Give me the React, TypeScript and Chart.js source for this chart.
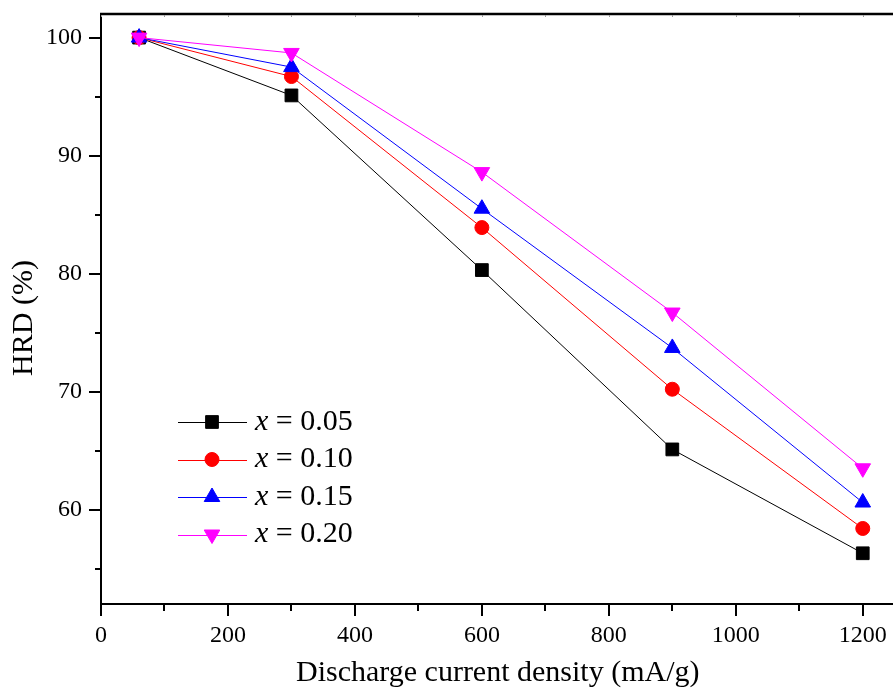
import { useEffect, useRef } from "react";
import { Chart, registerables } from "chart.js";
import { drawPoint } from "chart.js/helpers";

Chart.register(...registerables);

const currentDensity = [60, 300, 600, 900, 1200];
const hrdX005 = [100, 95.1, 80.3, 65.1, 56.3];
const hrdX010 = [100, 96.7, 83.9, 70.2, 58.4];
const hrdX015 = [100, 97.5, 85.5, 73.7, 60.6];
const hrdX020 = [100, 98.7, 88.6, 76.7, 63.5];
const seriesValues = [hrdX005, hrdX010, hrdX015, hrdX020];
const seriesLabels = ["0.05", "0.10", "0.15", "0.20"];
const xTickValues = [0, 200, 400, 600, 800, 1000, 1200];
const xMinorTickValues = [100, 300, 500, 700, 900, 1100];
const yTickValues = [60, 70, 80, 90, 100];
const yMinorTickValues = [55, 65, 75, 85, 95];
const xTitle = "Discharge current density (mA/g)";
const yTitle = "HRD (%)";

const FONT = "'Liberation Serif', 'Times New Roman', serif";

const seriesStyles = [
  { color: "#000000", pointStyle: "rect", radius: 9, rotation: 0 },
  { color: "#ff0000", pointStyle: "circle", radius: 7, rotation: 0 },
  { color: "#0000ff", pointStyle: "triangle", radius: 9, rotation: 0 },
  { color: "#ff00ff", pointStyle: "triangle", radius: 9, rotation: 180 },
];

const framePlugin = {
  id: "frame",
  afterDraw(chart: any) {
    const { ctx, chartArea } = chart;
    const xs = chart.scales.x;
    const ys = chart.scales.y;
    const { left, right, top, bottom } = chartArea;
    ctx.save();
    ctx.strokeStyle = "#000";
    ctx.lineWidth = 2;
    ctx.beginPath();
    for (const v of xMinorTickValues) {
      const px = Math.round(xs.getPixelForValue(v));
      ctx.moveTo(px, bottom);
      ctx.lineTo(px, bottom + 7);
    }
    for (const v of yMinorTickValues) {
      const py = Math.round(ys.getPixelForValue(v));
      ctx.moveTo(left, py);
      ctx.lineTo(left - 6, py);
    }
    ctx.stroke();
    // top and right frame
    ctx.lineWidth = 2.5;
    ctx.beginPath();
    ctx.moveTo(left - 1, top);
    ctx.lineTo(right, top);
    ctx.lineTo(right, bottom);
    ctx.stroke();
    // faint inward ticks on top
    ctx.strokeStyle = "#999";
    ctx.lineWidth = 1;
    ctx.beginPath();
    for (const v of [...xTickValues, ...xMinorTickValues]) {
      const px = Math.round(xs.getPixelForValue(v)) + 0.5;
      ctx.moveTo(px, top + 1);
      ctx.lineTo(px, top + 3);
    }
    ctx.stroke();

    // y axis title
    ctx.save();
    ctx.translate(24.5, (top + bottom) / 2 + 9);
    ctx.rotate(-Math.PI / 2);
    ctx.fillStyle = "#000";
    ctx.font = `30px ${FONT}`;
    ctx.textAlign = "center";
    ctx.textBaseline = "middle";
    ctx.fillText(yTitle, 0, 0);
    ctx.restore();

    // legend
    const lineX1 = 178;
    const lineX2 = 247;
    const markerX = 212;
    const textX = 255;
    const rowY0 = 422;
    const rowStep = 37.5;
    chart.data.datasets.forEach((ds: any, i: number) => {
      const st = seriesStyles[i];
      const y = rowY0 + i * rowStep;
      ctx.strokeStyle = st.color;
      ctx.fillStyle = st.color;
      ctx.lineWidth = 1;
      ctx.beginPath();
      ctx.moveTo(lineX1, Math.round(y) + 0.5);
      ctx.lineTo(lineX2, Math.round(y) + 0.5);
      ctx.stroke();
      drawPoint(ctx, { pointStyle: st.pointStyle, rotation: st.rotation, radius: st.radius, borderWidth: 1 }, markerX, y);
      ctx.fillStyle = "#000";
      ctx.textBaseline = "middle";
      ctx.textAlign = "left";
      ctx.font = `italic 30px ${FONT}`;
      ctx.fillText("x", textX, y);
      const w = ctx.measureText("x").width;
      ctx.font = `30px ${FONT}`;
      ctx.fillText(" = " + seriesLabels[i], textX + w, y);
    });
    ctx.restore();
  },
};

export default function App() {
  const canvasRef = useRef<HTMLCanvasElement | null>(null);

  useEffect(() => {
    const canvas = canvasRef.current;
    if (!canvas) return;
    const chart = new Chart(canvas, {
      type: "line",
      data: {
        datasets: seriesValues.map((vals, i) => ({
          label: "x = " + seriesLabels[i],
          data: currentDensity.map((x, j) => ({ x, y: vals[j] })),
          borderColor: seriesStyles[i].color,
          backgroundColor: seriesStyles[i].color,
          borderWidth: 1,
          pointStyle: seriesStyles[i].pointStyle as any,
          pointRadius: seriesStyles[i].radius,
          pointRotation: seriesStyles[i].rotation,
          pointBorderWidth: 1,
          pointBorderColor: seriesStyles[i].color,
          pointBackgroundColor: seriesStyles[i].color,
          tension: 0,
          order: 4 - i,
        })),
      },
      options: {
        responsive: false,
        animation: false,
        devicePixelRatio: 1,
        layout: { autoPadding: false, padding: { left: 0, top: 14, right: 5.5, bottom: 0 } },
        plugins: {
          legend: { display: false },
          tooltip: { enabled: false },
        },
        scales: {
          x: {
            type: "linear",
            min: 0,
            max: 1250,
            afterFit(scale: any) {
              scale.height = 84;
              scale.paddingLeft = 0;
              scale.paddingRight = 0;
            },
            afterBuildTicks(scale: any) {
              scale.ticks = xTickValues.map((v) => ({ value: v }));
            },
            border: { display: true, color: "#000", width: 2 },
            grid: {
              display: true,
              drawOnChartArea: false,
              drawTicks: true,
              tickLength: 12,
              color: "#000",
              lineWidth: 2,
            },
            ticks: {
              color: "#000",
              font: { family: FONT, size: 24 },
              padding: 5,
              maxRotation: 0,
              autoSkip: false,
              callback: (v: any) => String(v),
            },
            title: {
              display: true,
              text: xTitle,
              color: "#000",
              font: { family: FONT, size: 30, lineHeight: 1 },
              padding: { top: 0, bottom: 0 },
            },
          },
          y: {
            type: "linear",
            min: 52,
            max: 102,
            afterFit(scale: any) {
              scale.width = 101;
              scale.paddingTop = 0;
              scale.paddingBottom = 0;
            },
            afterBuildTicks(scale: any) {
              scale.ticks = yTickValues.map((v) => ({ value: v }));
            },
            border: { display: true, color: "#000", width: 2 },
            grid: {
              display: true,
              drawOnChartArea: false,
              drawTicks: true,
              tickLength: 12,
              color: "#000",
              lineWidth: 2,
            },
            ticks: {
              color: "#000",
              font: { family: FONT, size: 24 },
              padding: 7,
              autoSkip: false,
              callback: (v: any) => String(v),
            },
            title: { display: false },
          },
        },
      },
      plugins: [framePlugin],
    });
    return () => chart.destroy();
  }, []);

  return (
    <div
      style={{
        position: "absolute",
        left: 0,
        top: 0,
        width: 893,
        height: 688,
        overflow: "hidden",
        background: "#fff",
      }}
    >
      <div style={{ position: "absolute", left: 0, top: 0, width: 900, height: 688 }}>
        <canvas
          ref={canvasRef}
          width={900}
          height={688}
          style={{ display: "block", width: 900, height: 688 }}
        />
      </div>
    </div>
  );
}
